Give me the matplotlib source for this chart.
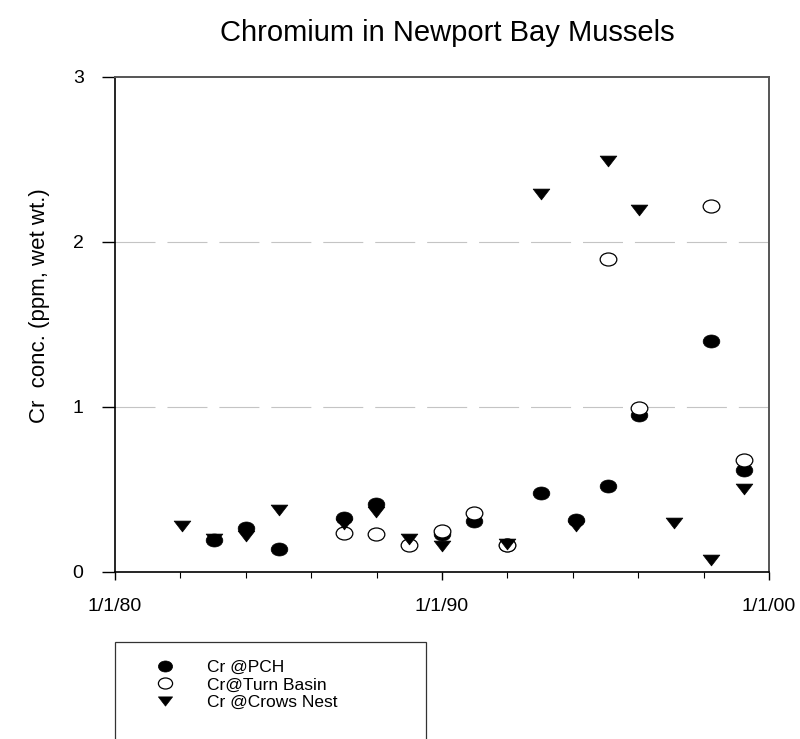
import matplotlib
matplotlib.use("Agg")
import matplotlib.pyplot as plt
from matplotlib.path import Path
from matplotlib.lines import Line2D
from matplotlib.patches import Rectangle

plt.rcParams['font.family'] = ['Liberation Sans', 'DejaVu Sans']
plt.rcParams['lines.scale_dashes'] = False

title = "Chromium in Newport Bay Mussels"
ylabel = "Cr  conc. (ppm, wet wt.)"
series_labels = ["Cr @PCH", "Cr@Turn Basin", "Cr @Crows Nest"]

# decimal years
pch_x = [1983.02, 1984.0, 1985.0, 1987.0, 1987.98, 1990.0, 1990.97, 1991.99,
         1993.02, 1994.11, 1995.08, 1996.03, 1998.23, 1999.23]
pch_y = [0.195, 0.263, 0.137, 0.324, 0.41, 0.226, 0.308, 0.16,
         0.476, 0.314, 0.517, 0.948, 1.40, 0.616]

turn_x = [1987.0, 1987.98, 1989.0, 1990.0, 1990.97, 1991.99, 1995.08, 1996.03,
          1998.23, 1999.23]
turn_y = [0.236, 0.226, 0.164, 0.246, 0.355, 0.16, 1.894, 0.995, 2.216, 0.677]

crows_x = [1982.04, 1983.02, 1984.0, 1985.0, 1987.0, 1987.98, 1989.0, 1990.0,
           1991.99, 1993.02, 1994.11, 1995.08, 1996.03, 1997.08, 1998.23, 1999.23]
crows_y = [0.277, 0.20, 0.215, 0.376, 0.287, 0.363, 0.199, 0.156,
           0.17, 2.288, 0.277, 2.489, 2.19, 0.298, 0.072, 0.503]

x_major = [1980, 1990, 2000]
x_major_labels = ["1/1/80", "1/1/90", "1/1/00"]
x_minor = [1982, 1984, 1986, 1988, 1992, 1994, 1996, 1998]
y_ticks = [0, 1, 2, 3]
grid_levels = [1, 2]

W, H = 800, 739
fig = plt.figure(figsize=(W / 100, H / 100), dpi=100)
ax = fig.add_axes([115 / W, 1 - 571.7 / H, (769 - 115) / W, (571.7 - 76.7) / H])

ellipse = Path(Path.unit_circle().vertices * [1.0, 0.78], Path.unit_circle().codes)
tri = Path([(-1, 0.65), (1, 0.65), (0, -0.65), (-1, 0.65)],
           [Path.MOVETO, Path.LINETO, Path.LINETO, Path.CLOSEPOLY])

ms = 12
ax.plot(pch_x, pch_y, linestyle='none', marker=ellipse, markersize=ms,
        markerfacecolor='black', markeredgecolor='black', markeredgewidth=0.5,
        label=series_labels[0], zorder=3)
ax.plot(turn_x, turn_y, linestyle='none', marker=ellipse, markersize=ms,
        markerfacecolor='white', markeredgecolor='black', markeredgewidth=0.9,
        label=series_labels[1], zorder=4)
ax.plot(crows_x, crows_y, linestyle='none', marker=tri, markersize=ms,
        markerfacecolor='black', markeredgecolor='black', markeredgewidth=0.5,
        label=series_labels[2], zorder=5)

for g in grid_levels:
    ax.axhline(g, color='#c4c4c4', linewidth=0.8, dashes=(28.8, 8.6), zorder=1)

ax.set_xlim(1980, 2000)
ax.set_ylim(0, 3)
ax.set_xticks(x_major)
ax.set_xticklabels(x_major_labels)
ax.set_xticks(x_minor, minor=True)
ax.set_yticks(y_ticks)
ax.set_yticklabels([str(v) for v in y_ticks])

ax.tick_params(axis='x', which='major', direction='out', length=6, width=1.0,
               labelsize=14, pad=13)
ax.tick_params(axis='x', which='minor', direction='out', length=4, width=0.8)
ax.tick_params(axis='y', which='major', direction='out', length=9.6, width=1.0,
               labelsize=14, pad=13)

for s in ['left', 'bottom']:
    ax.spines[s].set_color('black')
    ax.spines[s].set_linewidth(1.2)
for s in ['top', 'right']:
    ax.spines[s].set_color('#555555')
    ax.spines[s].set_linewidth(1.4)

ax.set_ylabel(ylabel, fontsize=16)
ax.yaxis.set_label_coords(-0.1, 0.537)

fig.text(447 / W, 1 - 33 / H, title, fontsize=21, ha='center', va='center')

# legend
handles = [
    Line2D([], [], linestyle='none', marker=ellipse, markersize=ms,
           markerfacecolor='black', markeredgecolor='black', markeredgewidth=0.5),
    Line2D([], [], linestyle='none', marker=ellipse, markersize=ms,
           markerfacecolor='white', markeredgecolor='black', markeredgewidth=0.9),
    Line2D([], [], linestyle='none', marker=tri, markersize=ms,
           markerfacecolor='black', markeredgecolor='black', markeredgewidth=0.5),
]
fs_leg = 12.5
fig.legend(handles, series_labels, loc='upper left',
           bbox_to_anchor=(154.3 / W, 1 - 660 / H), frameon=False,
           borderpad=0, borderaxespad=0, handlelength=1.2,
           handletextpad=1.82, labelspacing=0.12, fontsize=fs_leg,
           markerscale=0.85)
fig.patches.append(Rectangle((115 / W, -0.03), (426 - 115) / W, 0.03 + (1 - 642 / H),
                             transform=fig.transFigure, fill=False,
                             edgecolor='#333333', linewidth=0.9))

fig.savefig("out.png", dpi=100)
